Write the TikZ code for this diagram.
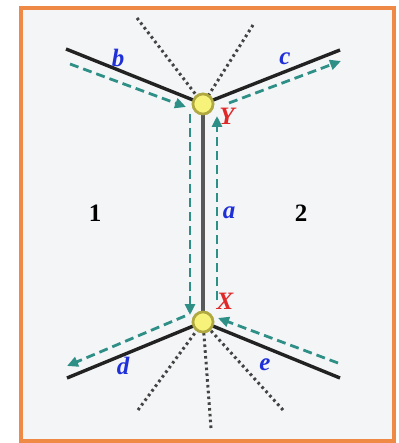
\documentclass[tikz,border=0pt]{standalone}
\usepackage{fontspec}
\setmainfont{Liberation Serif}
\usetikzlibrary{arrows.meta}
\definecolor{frameor}{HTML}{EE8A45}
\definecolor{bgg}{HTML}{F4F5F7}
\definecolor{tealc}{HTML}{2E8F86}
\definecolor{edgec}{HTML}{222222}
\definecolor{nodef}{HTML}{F6F27A}
\definecolor{nodeb}{HTML}{B0A840}
\definecolor{lblue}{HTML}{2030D8}
\definecolor{lred}{HTML}{E02828}
\begin{document}
\begin{tikzpicture}[x=1pt,y=-1pt,
  vert/.style={circle,fill=nodef,draw=nodeb,line width=2.6pt,minimum size=20pt,inner sep=0pt},
  edge/.style={draw=edgec,line width=3.4pt},
  dots/.style={draw=edgec!85,line width=3pt,dash pattern=on 2.6pt off 3.2pt},
  flow/.style={draw=tealc,line width=2.8pt,dash pattern=on 9pt off 5pt,-{Triangle[length=11pt,width=10pt]}},
  elab/.style={text=lblue,font=\bfseries\itshape\fontsize{25}{27}\selectfont},
  vlab/.style={text=lred,font=\bfseries\itshape\fontsize{25}{27}\selectfont},
  flab/.style={font=\bfseries\fontsize{25}{27}\selectfont}]
\useasboundingbox (0,0) rectangle (398,443);
\draw[frameor,line width=4pt,fill=bgg] (21,8) rectangle (394,441);
\coordinate (ty1) at (137,18);
\coordinate (ty2) at (253,25);
\coordinate (bx1) at (138,410);
\coordinate (bx2) at (211,428);
\coordinate (bx3) at (283,410);
\coordinate (pb) at (66,49);
\coordinate (pc) at (340,50);
\coordinate (pd) at (67,378);
\coordinate (pe) at (340,378);
\node[vert] (Y) at (203,104) {};
\node[vert] (X) at (203,322) {};
\draw[dots] (ty1) -- (Y.center);
\draw[dots] (ty2) -- (Y.center);
\draw[dots] (bx1) -- (X.center);
\draw[dots] (bx2) -- (X.center);
\draw[dots] (bx3) -- (X.center);
\draw[edge] (pb) -- (Y.center) -- (pc);
\draw[edge] (pd) -- (X.center) -- (pe);
\draw[draw=edgec!75,line width=3.4pt] (Y.center) -- (X.center);
\node[vert] at (Y) {};
\node[vert] at (X) {};
\coordinate (fb1) at (70,64);
\coordinate (fb2) at (186,107);
\coordinate (fc1) at (229,103);
\coordinate (fc2) at (341,61);
\coordinate (fl1) at (190,114);
\coordinate (fl2) at (190,315);
\coordinate (fr1) at (217,300);
\coordinate (fr2) at (217,116);
\coordinate (fd1) at (185,316);
\coordinate (fd2) at (67,366);
\coordinate (fe1) at (338,363);
\coordinate (fe2) at (218,318);
\draw[flow] (fb1) -- (fb2);
\draw[flow] (fc1) -- (fc2);
\draw[flow] (fl1) -- (fl2);
\draw[flow] (fr1) -- (fr2);
\draw[flow] (fd1) -- (fd2);
\draw[flow] (fe1) -- (fe2);
\node[elab] (lb) at (118,58) {b};
\node[elab] (lc) at (285,59) {c};
\node[elab] (la) at (229,213) {a};
\node[elab] (ld) at (123,366) {d};
\node[elab] (le) at (265,365) {e};
\node[vlab] (lY) at (227,116) {Y};
\node[vlab] (lX) at (225,301) {X};
\node[flab] (l1) at (95,213) {1};
\node[flab] (l2) at (301,213) {2};
\end{tikzpicture}
\end{document}
